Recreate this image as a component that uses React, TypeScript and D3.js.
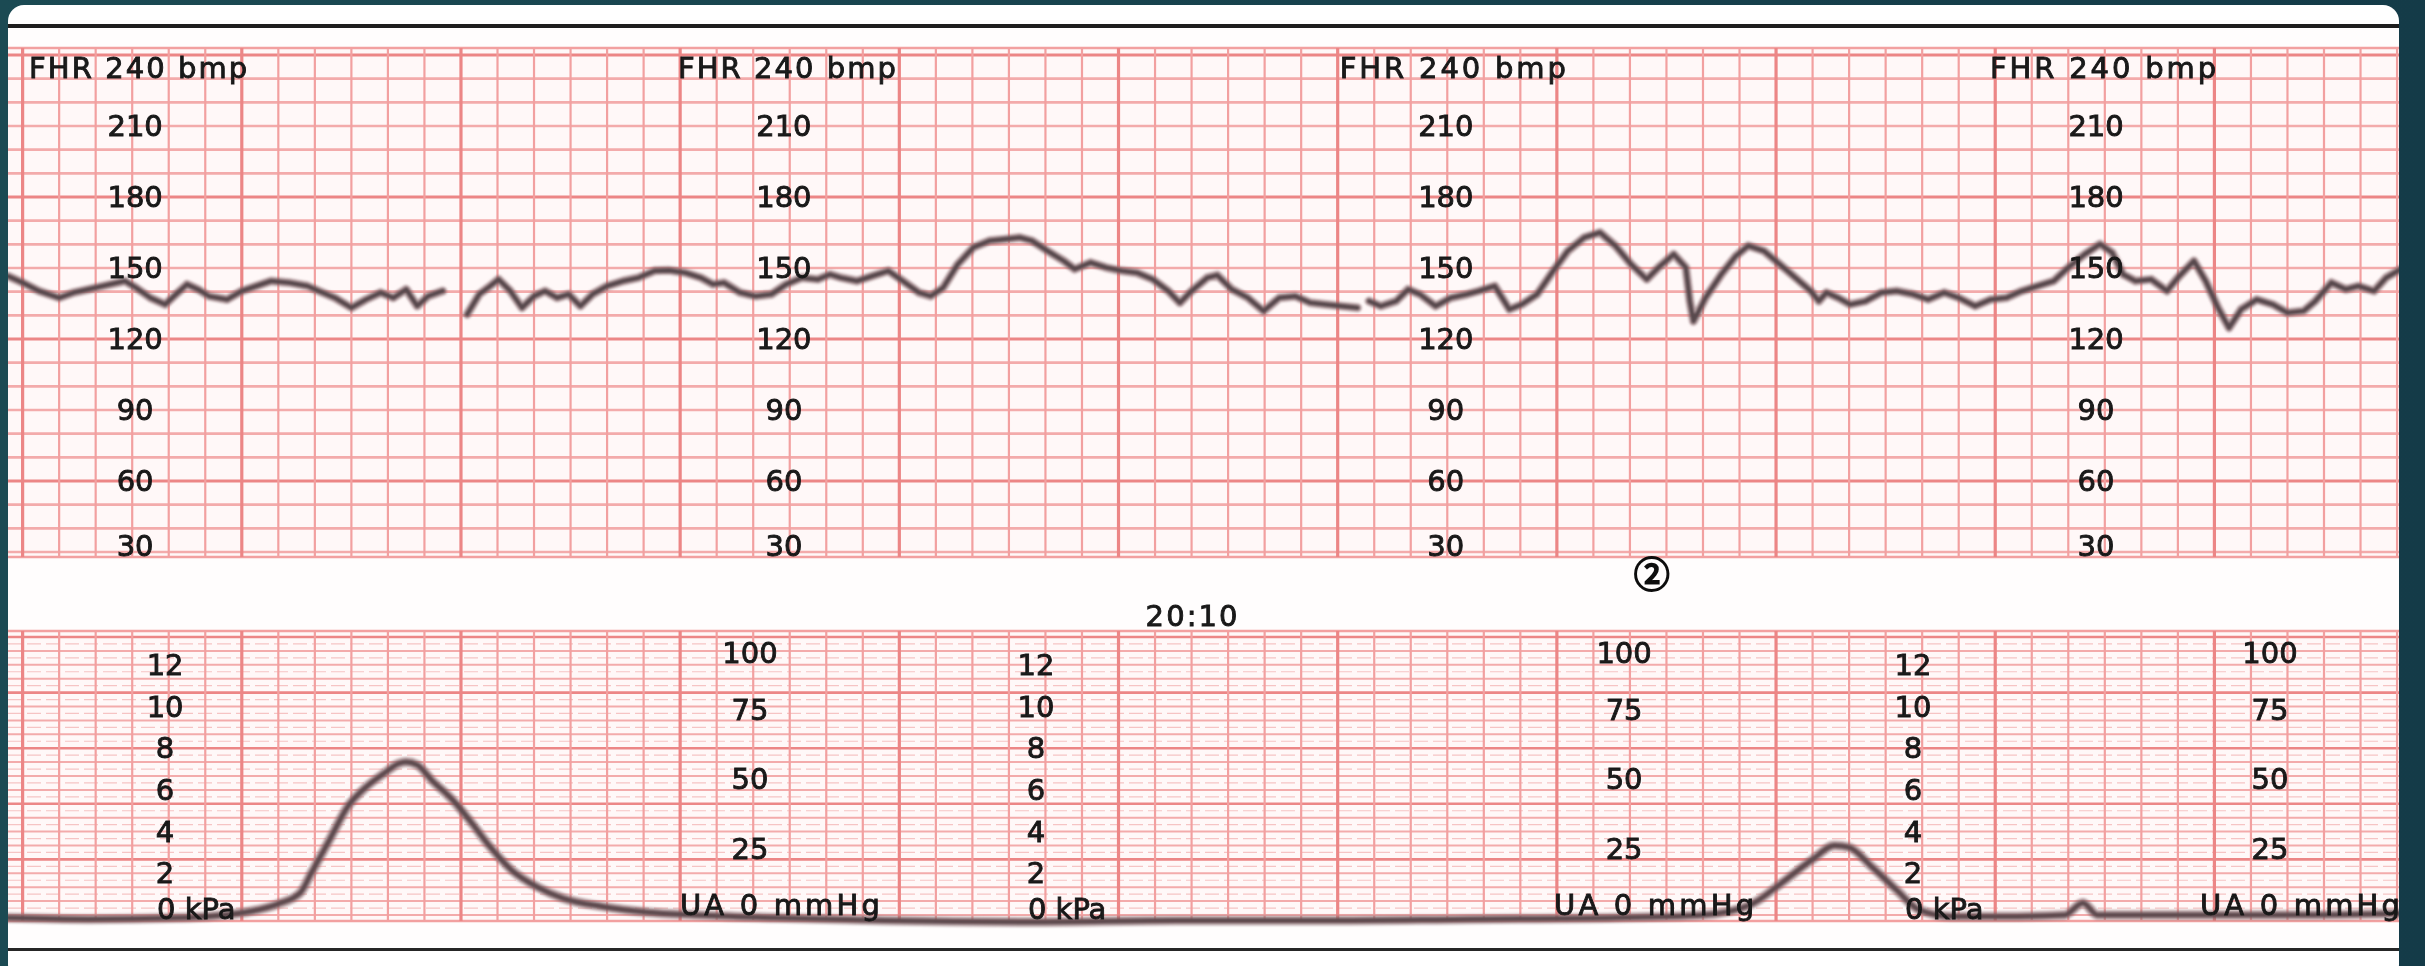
import React from "react";
import * as d3 from "d3";

// ---- data (time in seconds from left edge of strip) ----
const FHR_TIME = [0,4,8.5,14,18,22,28,32,35,39,43,46,49,52,55,60,64,68,72,77,82,85,89.5,94,98,102,105.5,109,112,115,119,
  122,
  125.7,129,132,134.3,137.5,140.7,144,147,150.3,153.5,156.7,160,164,168.4,172.6,177,181,185.4,189.7,193,196,200.4,204.6,209,213,217.4,221.7,225,228,232.4,236.6,241,245,249.4,252.6,256,260,264.3,268.6,273,277,280.3,284.6,289,292,296.3,300.6,304.8,309,313.4,317.6,320.8,324,328.3,331,335,339.4,343.7,348,352.3,356.6,360.8,365,369.4,
  371,
  372.6,375.8,380,383.3,386.5,390.8,395,399.4,402.6,407,411,414.4,418.6,423,427,431.5,435.8,440,444.3,448.6,451.8,456,459.3,460.4,461.4,464.7,469,473,476.4,480.7,485,489.3,493.5,495.7,497.8,501,504.3,508.5,512.8,517,521.4,525.7,530,534,538.5,542.8,547,551.3,555.6,560,564,568.5,572.7,576,579,582.4,586.7,591,594,598.4,601.6,605,608,611.3,615.6,620,624,628.4,631.6,636,640,643.4,647.7,651,655];
const FHR_BPM: (number | null)[] = [146.6,143.8,140.3,137.4,139.6,141,143.1,144.5,141.7,137.4,134.6,138.9,143.1,141,138.1,136.7,140.3,142.4,144.5,143.8,142.4,140.3,137.4,133.2,136.7,139.6,137.4,141,133.9,138.1,140.3,
  null,
  130.4,138.9,142.4,145.2,140.3,133.2,138.1,140.3,137.4,138.9,133.9,138.9,142.4,144.5,145.9,148.8,149,148,145.9,143.1,143.8,139.6,138.1,138.9,143.1,145.9,145.2,147.3,145.9,144.5,146.6,148.8,144.5,139.6,138.1,141.7,151.6,158.7,161.5,162.2,162.9,161.5,157.2,153,149.5,152.3,150.2,148.8,148,145.2,140.3,135.3,140.3,145.9,147,141,137.4,131.8,137.4,138.1,135.3,134.6,133.9,133.2,
  null,
  136,133.9,136,141,138.9,133.9,137.4,138.9,140.3,142.4,132.5,134.6,138.9,148.8,157.2,162.9,165,159.4,151.6,145.2,150.2,155.8,150.2,136,127.5,137.4,147.3,155.1,159.4,157.2,151.6,145.9,140.3,136,139.6,137.4,134.6,136,139.6,140.3,138.9,136.7,139.6,137.4,133.9,136.7,137.4,140.3,142.4,144.5,150.2,155.8,160.1,156.5,147.3,144.5,145.2,140.3,145.9,153,144.5,133.2,124.7,132.5,136.7,134.6,131.1,131.8,136,143.8,141,142.4,140.3,145.9,149.5];

const UA_TIME = [0,22,47,65,74,80,83,88,93,98,103,107,109,112,116,122,127,132,138,145,152,163,175,188,210,240,280,320,360,400,440,464,477,485,494,500,504,510,517,523,532,550,563,568,572,597,631,655];
const UA_MMHG = [-1,-1.5,-1,1,4,8,15,27,39,46,51,54.5,55,54,48.5,41,33,24.5,16,10,6,3,1,0,-1,-2,-2.5,-2,-2,-1.5,-1,0,3.7,11,20,25,24.3,17.6,9,2,-0.5,-0.5,0,4.3,0,0,0,0.5];

const FHR_TICKS = [210, 180, 150, 120, 90, 60, 30];
const FHR_TITLE = "FHR 240 bmp";
const FHR_LABEL_COLS = [34.8, 212.4, 393.6, 571.6]; // seconds
const KPA_TICKS = [12, 10, 8, 6, 4, 2];
const KPA_LABEL = "0 kPa";
const KPA_LABEL_COLS = [43, 281.4, 521.5];
const MMHG_TICKS = [100, 75, 50, 25];
const MMHG_LABEL = "UA 0 mmHg";
const MMHG_LABEL_COLS = [203.1, 442.4, 619.2];
const TIME_LABEL = "20:10";
const TIME_LABEL_AT = 324;
const MARK_LABEL = "②";
const MARK_AT = 450;

const W = 2425, H = 966;
const CARD_L = 8, CARD_R = 2399;
const UP_TOP = 48, UP_BOT = 557, LO_TOP = 631, LO_BOT = 921;

export default function App() {
  const x = d3.scaleLinear().domain([0, 655]).range([8, 8 + 655 * 3.653]);
  const yF = d3.scaleLinear().domain([30, 240]).range([552, 55]);
  const yU = d3.scaleLinear().domain([0, 100]).range([915, 637]);

  const vLines = d3.range(0, 66).map((i) => ({ s: 4 + 10 * i, major: i % 6 === 0 }));
  const hUp = d3.range(30, 241, 10).map((b) => ({ b, major: b % 60 === 0 }));
  const hLo = d3.range(0, 101, 5).map((m) => ({ m, major: m % 20 === 0 && m > 0 }));
  const hLoSub = d3.range(2.5, 100, 5);

  const fhrData = FHR_TIME.map((t, i) => [t, FHR_BPM[i]] as [number, number | null]);
  const fhrLine = d3
    .line<[number, number | null]>()
    .defined((d) => d[1] != null)
    .x((d) => x(d[0]))
    .y((d) => yF(d[1] as number))
    .curve(d3.curveLinear);
  const uaData = UA_TIME.map((t, i) => [t, UA_MMHG[i]] as [number, number]);
  const uaLine = d3
    .line<[number, number]>()
    .x((d) => x(d[0]))
    .y((d) => yU(d[1]))
    .curve(d3.curveMonotoneX);

  const minor = "#f2a0a0";
  const major = "#ec8686";
  const font = "DejaVu Sans, Verdana, sans-serif";
  const txt = { fontFamily: font, fontSize: 29, fill: "#1a1a1a", stroke: "#1a1a1a", strokeWidth: 0.9 } as const;

  return (
    <svg width={W} height={H} style={{ position: "fixed", left: 0, top: 0, display: "block" }}>
      <defs>
        <linearGradient id="bg" x1="0" y1="0" x2="1" y2="0">
          <stop offset="0" stopColor="#1b4a53" />
          <stop offset="1" stopColor="#143b48" />
        </linearGradient>
        <clipPath id="card">
          <rect x={CARD_L} y={5} width={CARD_R - CARD_L} height={975} rx={16} />
        </clipPath>
        <filter id="soft" x="-5%" y="-50%" width="110%" height="200%">
          <feGaussianBlur stdDeviation="1.1" />
        </filter>
        <filter id="txtsoft">
          <feGaussianBlur stdDeviation="0.35" />
        </filter>
      </defs>
      <rect x={0} y={0} width={W} height={H} fill="url(#bg)" />
      <g clipPath="url(#card)">
        <rect x={CARD_L} y={5} width={CARD_R - CARD_L} height={975} fill="#ffffff" />
        <rect x={CARD_L} y={29} width={CARD_R - CARD_L} height={918} fill="#fffdfd" />
        <rect x={CARD_L} y={24} width={CARD_R - CARD_L} height={4} fill="#1e1e1e" />
        <rect x={CARD_L} y={948} width={CARD_R - CARD_L} height={3} fill="#262626" />

        {/* grids */}
        <rect x={CARD_L} y={UP_TOP} width={CARD_R - CARD_L} height={UP_BOT - UP_TOP} fill="#fff8f8" />
        <rect x={CARD_L} y={LO_TOP} width={CARD_R - CARD_L} height={LO_BOT - LO_TOP} fill="#fff8f8" />
        {hUp.map((h) => (
          <line key={"hu" + h.b} x1={CARD_L} x2={CARD_R} y1={yF(h.b)} y2={yF(h.b)}
            stroke={h.major ? major : "#f3abab"} strokeWidth={h.major ? 3 : 2.6} />
        ))}
        {hLoSub.map((m) => (
          <line key={"hs" + m} x1={CARD_L} x2={CARD_R} y1={yU(m)} y2={yU(m)}
            stroke="#f6c4c4" strokeWidth={1.2} strokeDasharray="14 5" />
        ))}
        {hLo.map((h) => (
          <line key={"hl" + h.m} x1={CARD_L} x2={CARD_R} y1={yU(h.m)} y2={yU(h.m)}
            stroke={h.major ? major : "#f3abab"} strokeWidth={h.major ? 2.6 : 2} />
        ))}
        {[UP_TOP, UP_BOT, LO_TOP, LO_BOT].map((y) => (
          <line key={"e" + y} x1={CARD_L} x2={CARD_R} y1={y} y2={y} stroke={minor} strokeWidth={2.4} />
        ))}
        {vLines.map((v) => (
          <g key={"v" + v.s}>
            <line x1={x(v.s)} x2={x(v.s)} y1={UP_TOP} y2={UP_BOT} stroke={v.major ? major : minor} strokeWidth={v.major ? 3.2 : 2.2} />
            <line x1={x(v.s)} x2={x(v.s)} y1={LO_TOP} y2={LO_BOT} stroke={v.major ? major : minor} strokeWidth={v.major ? 3.2 : 2.2} />
          </g>
        ))}

        {/* traces */}
        <g filter="url(#soft)" fill="none" strokeLinejoin="round" strokeLinecap="round">
          <path d={fhrLine(fhrData) || ""} stroke="#8c6c71" strokeOpacity={0.6} strokeWidth={9} />
          <path d={fhrLine(fhrData) || ""} stroke="#584a4e" strokeWidth={4.6} />
          <path d={uaLine(uaData) || ""} stroke="#8c6c71" strokeOpacity={0.6} strokeWidth={10} />
          <path d={uaLine(uaData) || ""} stroke="#5e4b50" strokeWidth={5} />
        </g>

        <g filter="url(#txtsoft)">
          {/* FHR labels */}
          {FHR_LABEL_COLS.map((c, ci) => (
            <g key={"fc" + ci}>
              <text x={x(c) - 106} y={yF(240) + 13} dominantBaseline="central" textLength={ci < 2 ? 218 : 226}
                lengthAdjust="spacing" {...txt}>{FHR_TITLE}</text>
              {FHR_TICKS.map((v) => (
                <text key={v} x={x(c)} y={Math.min(yF(v), 546)} textAnchor="middle" dominantBaseline="central" {...txt}>{v}</text>
              ))}
            </g>
          ))}
          {/* kPa labels */}
          {KPA_LABEL_COLS.map((c, ci) => (
            <g key={"kc" + ci}>
              {KPA_TICKS.map((v) => (
                <text key={v} x={x(c)} y={yU(v * 7.5)} textAnchor="middle" dominantBaseline="central" {...txt}>{v}</text>
              ))}
              <text x={x(c) - 8} y={yU(0) - 6} dominantBaseline="central" {...txt}>{KPA_LABEL}</text>
            </g>
          ))}
          {/* mmHg labels */}
          {MMHG_LABEL_COLS.map((c, ci) => (
            <g key={"mc" + ci}>
              {MMHG_TICKS.map((v) => (
                <text key={v} x={x(c)} y={v === 100 ? yU(v) + 16 : yU(v) + 3} textAnchor="middle" dominantBaseline="central" {...txt}>{v}</text>
              ))}
              <text x={x(c) - 70} y={yU(0) - 10} dominantBaseline="central" textLength={200} lengthAdjust="spacing" {...txt}>{MMHG_LABEL}</text>
            </g>
          ))}
          <text x={x(TIME_LABEL_AT)} y={616} textAnchor="middle" dominantBaseline="central" textLength={92}
            lengthAdjust="spacing" {...txt}>{TIME_LABEL}</text>
          <text x={x(MARK_AT)} y={572} textAnchor="middle" dominantBaseline="central"
            style={{ fontFamily: "Noto Sans CJK JP, DejaVu Sans, sans-serif", fontSize: 36 }}
            fill="#111" stroke="#111" strokeWidth={1.8}>{MARK_LABEL}</text>
        </g>
      </g>
    </svg>
  );
}
